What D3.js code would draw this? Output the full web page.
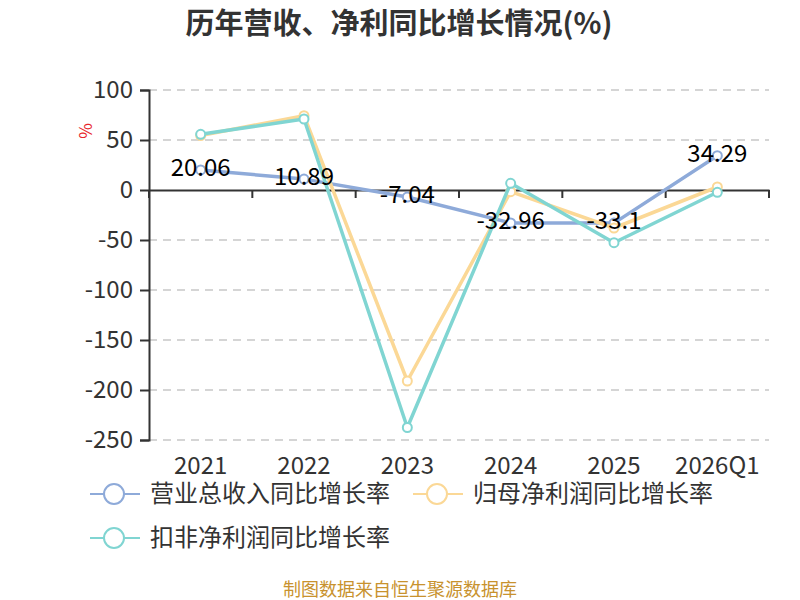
<!DOCTYPE html>
<html>
<head>
<meta charset="utf-8">
<script src="https://cdn.jsdelivr.net/npm/d3@7/dist/d3.min.js"></script>
<style>
    html, body { margin: 0; padding: 0; background: #fff; }
    svg { display: block; font-family: "Noto Sans CJK SC", "Noto Sans", sans-serif; }
</style>
</head>
<body>
<svg id="chart" width="800" height="600"></svg>
<script>
    'use strict';

    var categories = ['2021', '2022', '2023', '2024', '2025', '2026Q1'];
    var revenueGrowth = [20.06, 10.89, -7.04, -32.96, -33.1, 34.29];
    var netProfitGrowth = [54.5, 74.3, -191, -1.7, -38, 3];
    var deductedProfitGrowth = [55.7, 71, -237.5, 6.7, -52.7, -2.3];
    var yTicks = [100, 50, 0, -50, -100, -150, -200, -250];

    var seriesNames = ['营业总收入同比增长率', '归母净利润同比增长率', '扣非净利润同比增长率'];
    var seriesColors = ['#8eaad9', '#fbd896', '#80d5d2'];

    var svg = d3.select('#chart');
    var plot = {left: 149, right: 769, top: 90, bottom: 440};

    var x = d3.scaleBand().domain(categories).range([plot.left, plot.right]);
    var y = d3.scaleLinear().domain([-250, 100]).range([plot.bottom, plot.top]);

    function centerX(i) {
        return x(categories[i]) + x.bandwidth() / 2;
    }

    // title
    svg.append('text')
        .attr('x', 399).attr('y', 34)
        .attr('text-anchor', 'middle')
        .style('font-size', '29px').style('font-weight', 'bold')
        .style('fill', '#333')
        .text('历年营收、净利同比增长情况(%)');

    // dashed grid
    svg.append('g').selectAll('line')
        .data(yTicks.filter(function (t) { return t !== 0; }))
        .enter().append('line')
        .attr('x1', plot.left).attr('x2', plot.right)
        .attr('y1', function (d) { return y(d); })
        .attr('y2', function (d) { return y(d); })
        .style('stroke', '#c8c8c8').style('stroke-width', 1.5)
        .style('stroke-dasharray', '8,6');

    // y axis (plain hyphen minus like the original)
    var yAxis = d3.axisLeft(y)
        .tickValues(yTicks)
        .tickFormat(function (d) { return String(d); })
        .tickSize(9).tickPadding(7);
    var yg = svg.append('g')
        .attr('transform', 'translate(' + plot.left + ',0)')
        .call(yAxis);
    yg.select('.domain').style('stroke', '#333').style('stroke-width', 2);
    yg.selectAll('.tick line').style('stroke', '#333').style('stroke-width', 2);
    yg.selectAll('.tick text')
        .style('font-size', '24px').style('fill', '#333')
        .style('font-family', '"Noto Sans CJK SC", sans-serif');

    // x axis sits on zero line, labels at plot bottom
    var xAxis = d3.axisBottom(x).tickSize(0).tickFormat('');
    var xg = svg.append('g')
        .attr('transform', 'translate(0,' + y(0) + ')')
        .call(xAxis);
    xg.select('.domain').style('stroke', '#333').style('stroke-width', 2);

    var boundaries = categories.map(function (c) { return x(c); }).concat([plot.right]);
    xg.selectAll('.boundary').data(boundaries).enter().append('line')
        .attr('class', 'boundary')
        .attr('x1', function (d) { return d; }).attr('x2', function (d) { return d; })
        .attr('y1', 0).attr('y2', 8)
        .style('stroke', '#333').style('stroke-width', 2);

    svg.append('g').selectAll('text')
        .data(categories)
        .enter().append('text')
        .attr('x', function (d, i) { return centerX(i); })
        .attr('y', 474)
        .attr('text-anchor', 'middle')
        .style('font-size', '24px').style('fill', '#333')
        .text(function (d) { return d; });

    // axis name
    svg.append('text')
        .attr('transform', 'translate(92,131) rotate(-90)')
        .attr('text-anchor', 'middle')
        .style('font-size', '17px').style('fill', '#e8262b')
        .text('%');

    // lines
    var allSeries = [revenueGrowth, netProfitGrowth, deductedProfitGrowth];
    var line = d3.line()
        .x(function (d, i) { return centerX(i); })
        .y(function (d) { return y(d); });

    allSeries.forEach(function (values, s) {
        var g = svg.append('g');
        g.append('path')
            .datum(values)
            .attr('d', line)
            .style('fill', 'none')
            .style('stroke', seriesColors[s])
            .style('stroke-width', 3.5)
            .style('stroke-linejoin', 'round');
        g.selectAll('circle').data(values).enter().append('circle')
            .attr('cx', function (d, i) { return centerX(i); })
            .attr('cy', function (d) { return y(d); })
            .attr('r', 4.5)
            .style('fill', '#fff')
            .style('stroke', seriesColors[s])
            .style('stroke-width', 2);
    });

    // value labels for revenue
    svg.append('g').selectAll('text')
        .data(revenueGrowth)
        .enter().append('text')
        .attr('x', function (d, i) { return centerX(i); })
        .attr('y', function (d) { return y(d) + 6; })
        .attr('text-anchor', 'middle')
        .style('font-size', '24px').style('fill', '#000')
        .text(function (d) { return d; });

    // legend
    var legendRows = [[0, 1], [2]];
    legendRows.forEach(function (row, r) {
        var cy = 494 + r * 44;
        var cx = 90;
        row.forEach(function (s) {
            var item = svg.append('g');
            item.append('line')
                .attr('x1', cx).attr('x2', cx + 50)
                .attr('y1', cy).attr('y2', cy)
                .style('stroke', seriesColors[s]).style('stroke-width', 2);
            item.append('circle')
                .attr('cx', cx + 24).attr('cy', cy).attr('r', 10)
                .style('fill', '#fff')
                .style('stroke', seriesColors[s]).style('stroke-width', 2);
            var t = item.append('text')
                .attr('x', cx + 60).attr('y', cy + 8)
                .style('font-size', '24px').style('fill', '#333')
                .text(seriesNames[s]);
            cx = cx + 60 + t.node().getComputedTextLength() + 23;
        });
    });

    // source note
    svg.append('text')
        .attr('x', 400).attr('y', 596)
        .attr('text-anchor', 'middle')
        .style('font-size', '18px').style('fill', '#c8922e')
        .text('制图数据来自恒生聚源数据库');
</script>
</body>
</html>
